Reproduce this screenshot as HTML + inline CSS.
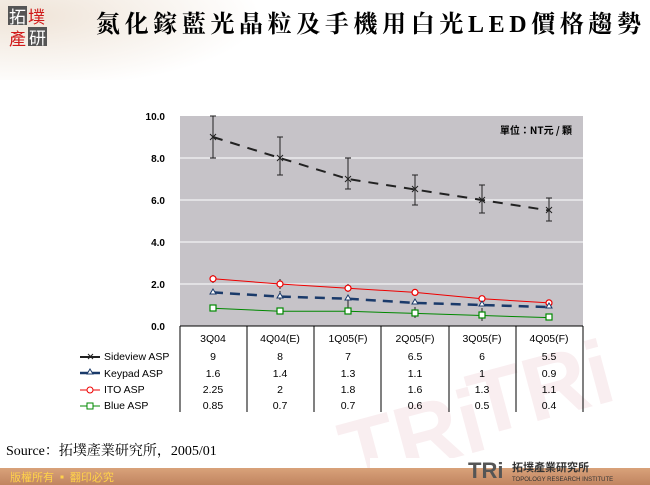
<!DOCTYPE html>
<html><head><meta charset="utf-8"><style>
body{margin:0;width:650px;height:485px;overflow:hidden;background:#fff;font-family:"Liberation Sans","Noto Sans CJK TC",sans-serif;}
</style></head><body>
<svg width="650" height="485" xmlns="http://www.w3.org/2000/svg" style="position:absolute;left:0;top:0">
<defs>
<linearGradient id="bar" x1="0" y1="0" x2="0" y2="1"><stop offset="0" stop-color="#d9a27a"/><stop offset="1" stop-color="#c08460"/></linearGradient>
<radialGradient id="tl" cx="0.1" cy="0.2" r="0.9"><stop offset="0" stop-color="#efe4d8"/><stop offset="1" stop-color="#fff"/></radialGradient>
</defs>
<rect x="0" y="0" width="260" height="80" fill="url(#tl)"/>
<g fill="#f9eef0" font-size="90" font-weight="bold" font-family="Liberation Sans">
<text x="330" y="470" transform="rotate(-15 400 400)">TRi</text>
<text x="470" y="430" transform="rotate(-15 500 400)">TRi</text>
</g>
<rect x="8" y="6" width="19" height="19" fill="#555"/>
<text x="9" y="23" font-size="17" fill="#fff" font-family="Noto Sans CJK TC">拓</text>
<text x="28" y="23" font-size="17" fill="#d01818" font-family="Noto Sans CJK TC">墣</text>
<text x="9" y="45" font-size="17" fill="#d01818" font-family="Noto Sans CJK TC">產</text>
<rect x="28" y="27" width="19" height="19" fill="#555"/>
<text x="29" y="44" font-size="17" fill="#fff" font-family="Noto Sans CJK TC">研</text>
<text x="96" y="32" font-size="24" font-weight="bold" fill="#000" font-family="Liberation Serif,Noto Serif CJK SC,serif" textLength="545">氮化鎵藍光晶粒及手機用白光LED價格趨勢</text>
<rect x="180" y="116" width="403" height="210" fill="#c6c3c8"/>
<g stroke="#fff" stroke-width="1">
<line x1="180" y1="158" x2="583" y2="158"/><line x1="180" y1="200" x2="583" y2="200"/>
<line x1="180" y1="242" x2="583" y2="242"/><line x1="180" y1="284" x2="583" y2="284"/>
</g>
<g font-size="10" font-weight="bold" text-anchor="end" fill="#000">
<text x="165" y="120">10.0</text><text x="165" y="162">8.0</text><text x="165" y="204">6.0</text>
<text x="165" y="246">4.0</text><text x="165" y="288">2.0</text><text x="165" y="330">0.0</text>
</g>
<text x="572" y="134" font-size="10" font-weight="bold" text-anchor="end" font-family="Noto Sans CJK TC">單位：NT元 / 顆</text>
<g stroke="#222" stroke-width="1">
<path d="M213 116V158M210 116h6M210 158h6"/>
<path d="M280 137V175M277 137h6M277 175h6"/>
<path d="M348 158V189M345 158h6M345 189h6"/>
<path d="M415 175V205M412 175h6M412 205h6"/>
<path d="M482 185V213M479 185h6M479 213h6"/>
<path d="M549 198V221M546 198h6M546 221h6"/>
</g>
<g stroke="#222" stroke-width="1">
<path d="M213 275V283M280 279V289M348 284V292M415 289V296M280 291V300M348 299V309M415 307V318M482 308V321"/>
</g>
<polyline points="213,137 280,158 348,179 415,189.5 482,200 549,210.5" fill="none" stroke="#222" stroke-width="2" stroke-dasharray="10,8"/>
<g stroke="#222" stroke-width="1"><path d="M210 134l6 6M216 134l-6 6M277 155l6 6M283 155l-6 6M345 176l6 6M351 176l-6 6M412 186l6 6M418 186l-6 6M479 197l6 6M485 197l-6 6M546 207l6 6M552 207l-6 6"/></g>
<polyline points="213,278.8 280,284 348,288.2 415,292.4 482,298.7 549,302.9" fill="none" stroke="#e00" stroke-width="1"/>
<g fill="#fff" stroke="#e00" stroke-width="1.2"><circle cx="213" cy="278.8" r="3"/><circle cx="280" cy="284" r="3"/><circle cx="348" cy="288.2" r="3"/><circle cx="415" cy="292.4" r="3"/><circle cx="482" cy="298.7" r="3"/><circle cx="549" cy="302.9" r="3"/></g>
<polyline points="213,292.4 280,296.6 348,298.7 415,302.9 482,305 549,307.1" fill="none" stroke="#1a3a6a" stroke-width="2.5" stroke-dasharray="10,7"/>
<g fill="#fff" stroke="#1a3a6a" stroke-width="1"><path d="M213 289l3 5h-6z M280 293l3 5h-6z M348 295l3 5h-6z M415 299l3 5h-6z M482 301l3 5h-6z M549 303l3 5h-6z"/></g>
<polyline points="213,308.2 280,311.3 348,311.3 415,313.4 482,315.5 549,317.6" fill="none" stroke="#080" stroke-width="1"/>
<g fill="#fff" stroke="#080" stroke-width="1.2"><rect x="210" y="305" width="6" height="6"/><rect x="277" y="308" width="6" height="6"/><rect x="345" y="308" width="6" height="6"/><rect x="412" y="310" width="6" height="6"/><rect x="479" y="312" width="6" height="6"/><rect x="546" y="314" width="6" height="6"/></g>
<line x1="180" y1="326" x2="583" y2="326" stroke="#000"/>
<g stroke="#000" stroke-width="1">
<line x1="180" y1="326" x2="180" y2="412"/><line x1="247" y1="326" x2="247" y2="412"/><line x1="314" y1="326" x2="314" y2="412"/><line x1="381" y1="326" x2="381" y2="412"/><line x1="449" y1="326" x2="449" y2="412"/><line x1="516" y1="326" x2="516" y2="412"/><line x1="583" y1="326" x2="583" y2="412"/>
</g>
<g font-size="10.5" text-anchor="middle" fill="#000">
<text x="213" y="342">3Q04</text><text x="280" y="342">4Q04(E)</text><text x="348" y="342">1Q05(F)</text><text x="415" y="342">2Q05(F)</text><text x="482" y="342">3Q05(F)</text><text x="549" y="342">4Q05(F)</text>
<text x="213" y="360">9</text><text x="280" y="360">8</text><text x="348" y="360">7</text><text x="415" y="360">6.5</text><text x="482" y="360">6</text><text x="549" y="360">5.5</text>
<text x="213" y="377">1.6</text><text x="280" y="377">1.4</text><text x="348" y="377">1.3</text><text x="415" y="377">1.1</text><text x="482" y="377">1</text><text x="549" y="377">0.9</text>
<text x="213" y="393">2.25</text><text x="280" y="393">2</text><text x="348" y="393">1.8</text><text x="415" y="393">1.6</text><text x="482" y="393">1.3</text><text x="549" y="393">1.1</text>
<text x="213" y="409">0.85</text><text x="280" y="409">0.7</text><text x="348" y="409">0.7</text><text x="415" y="409">0.6</text><text x="482" y="409">0.5</text><text x="549" y="409">0.4</text>
</g>
<g font-size="10.5" fill="#000">
<text x="104" y="360">Sideview ASP</text><text x="104" y="377">Keypad ASP</text><text x="104" y="393">ITO ASP</text><text x="104" y="409">Blue ASP</text>
</g>
<line x1="80" y1="357" x2="100" y2="357" stroke="#222" stroke-width="2"/><path d="M88 354l5 5M93 354l-5 5" stroke="#222"/>
<line x1="80" y1="373" x2="100" y2="373" stroke="#1a3a6a" stroke-width="2.5"/><path d="M90 369l3 5h-6z" fill="#fff" stroke="#1a3a6a"/>
<line x1="80" y1="390" x2="100" y2="390" stroke="#e00"/><circle cx="90" cy="390" r="3" fill="#fff" stroke="#e00"/>
<line x1="80" y1="406" x2="100" y2="406" stroke="#080"/><rect x="87" y="403" width="6" height="6" fill="#fff" stroke="#080"/>
<text x="6" y="455" font-size="14" fill="#000" font-family="Liberation Serif,Noto Serif CJK SC,serif">Source：拓墣產業研究所，2005/01</text>
<rect x="0" y="468" width="650" height="17" fill="url(#bar)"/>
<rect x="370" y="458" width="280" height="10" fill="#fff"/>
<text x="10" y="481" font-size="11" fill="#ffd24a" font-family="Noto Sans CJK TC">版權所有 ▪ 翻印必究</text>
<text x="468" y="478" font-size="22" font-weight="bold" fill="#555" font-family="Liberation Sans">TRi</text>
<text x="512" y="471" font-size="11" font-weight="bold" fill="#333" font-family="Noto Sans CJK TC">拓墣產業研究所</text>
<text x="512" y="481" font-size="6" fill="#333">TOPOLOGY RESEARCH INSTITUTE</text>
</svg>
</body></html>
